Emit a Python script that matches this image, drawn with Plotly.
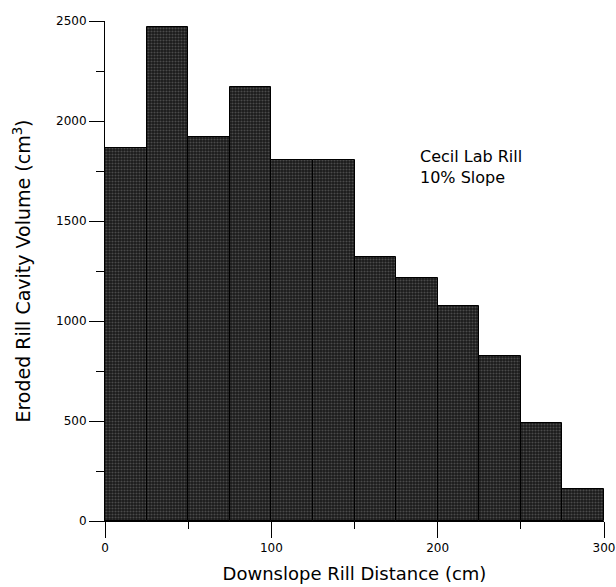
import plotly.graph_objects as go

# Downslope bins (cm) and eroded rill cavity volume per bin (cm^3)
bin_start = [0, 25, 50, 75, 100, 125, 150, 175, 200, 225, 250, 275]
bin_width = 25
volume = [1865, 2470, 1920, 2170, 1805, 1805, 1320, 1215, 1075, 825, 490, 160]

x_ticks = [0, 100, 200, 300]
y_ticks = [0, 500, 1000, 1500, 2000, 2500]

FONT = "'DejaVu Sans', sans-serif"

fig = go.Figure(
    go.Bar(
        x=[s + bin_width / 2 for s in bin_start],
        y=volume,
        width=bin_width,
        marker=dict(
            color="#2a2a2a",
            line=dict(color="black", width=1),
            pattern=dict(shape=".", fgcolor="#7a7a7a", bgcolor="#1a1a1a",
                         size=3, solidity=0.4),
        ),
        showlegend=False,
    )
)

fig.add_annotation(
    x=188, y=1770, xref="x", yref="y",
    text="Cecil Lab Rill<br>10% Slope",
    showarrow=False, xanchor="left", yanchor="middle", align="left",
    font=dict(family=FONT, size=16, color="black"),
)

fig.update_layout(
    width=616, height=587,
    margin=dict(l=105, r=12, t=21, b=66, autoexpand=False),
    paper_bgcolor="white", plot_bgcolor="white",
    bargap=0,
    font=dict(family=FONT, color="black"),
)

fig.update_xaxes(
    range=[0, 300], tickvals=x_ticks, ticktext=[str(v) for v in x_ticks],
    ticks="outside", ticklen=16, tickwidth=1, tickcolor="black",
    minor=dict(dtick=50, ticks="outside", ticklen=7, tickcolor="black", tickwidth=1),
    showline=True, linecolor="black", linewidth=1,
    showgrid=False, zeroline=False, automargin=False,
    tickfont=dict(size=12, family=FONT),
    title=dict(text="Downslope Rill Distance (cm)", font=dict(size=18, family=FONT), standoff=12),
)

fig.update_yaxes(
    range=[0, 2500], tickvals=y_ticks, ticktext=[str(v) for v in y_ticks],
    ticks="outside", ticklen=15, tickwidth=1, tickcolor="black",
    minor=dict(dtick=250, ticks="outside", ticklen=8, tickcolor="black", tickwidth=1),
    showline=True, linecolor="black", linewidth=1,
    showgrid=False, zeroline=False, automargin=False,
    tickfont=dict(size=12, family=FONT),
    title=dict(text="Eroded Rill Cavity Volume (cm<sup>3</sup>)", font=dict(size=19, family=FONT), standoff=20),
)

fig.write_html("out.html")
